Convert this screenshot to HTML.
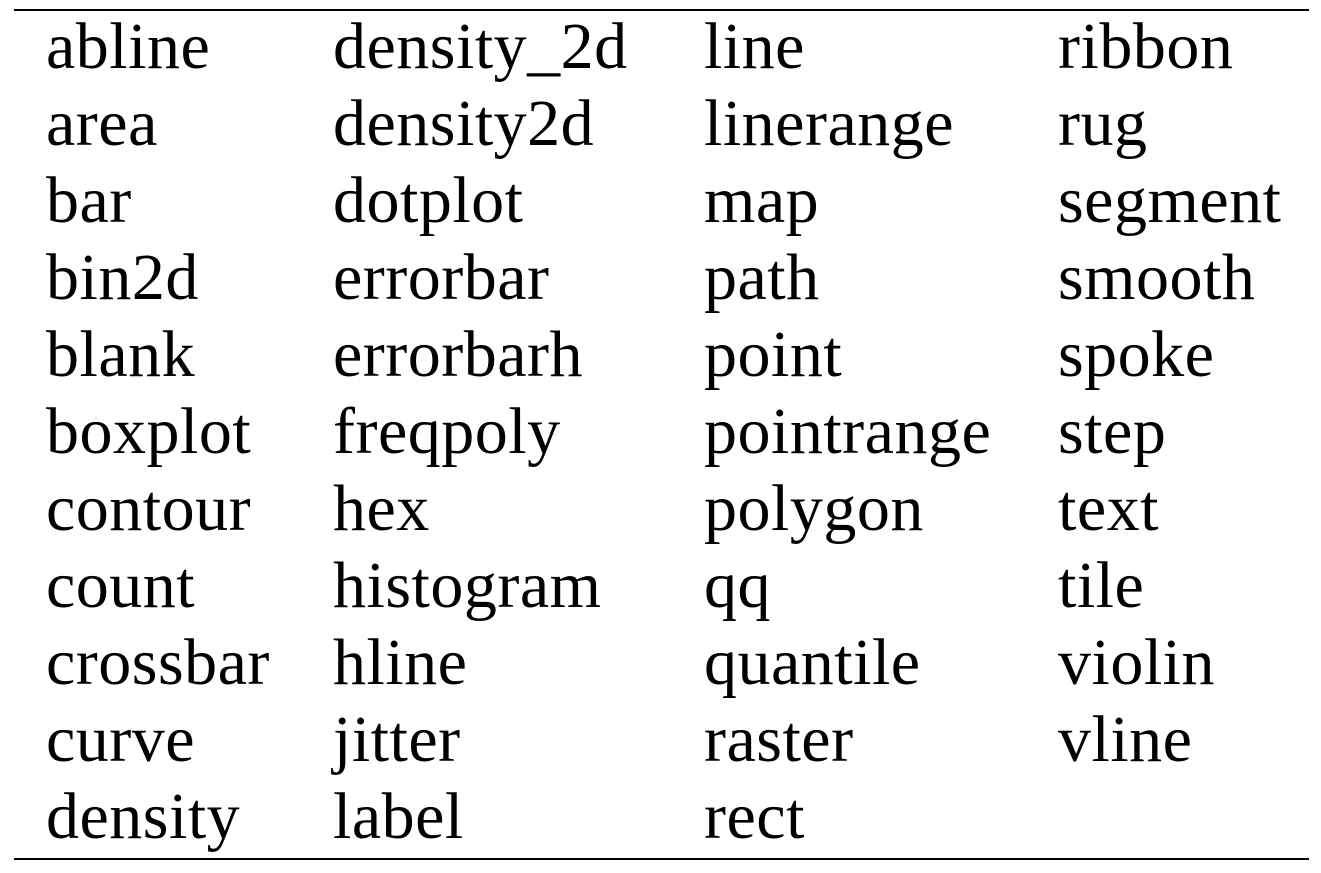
<!DOCTYPE html>
<html>
<head>
<meta charset="utf-8">
<style>
html,body{margin:0;padding:0;background:#fff;}
svg{display:block;}
text{font-family:"Liberation Serif",serif;font-size:66px;fill:#000;letter-spacing:0.5px;}
</style>
</head>
<body>
<svg width="1321" height="873" viewBox="0 0 1321 873" xmlns="http://www.w3.org/2000/svg">
<rect width="1321" height="873" fill="#fff"/>
<line x1="14" y1="10" x2="1309" y2="10" stroke="#000" stroke-width="2"/>
<line x1="14" y1="859" x2="1309" y2="859" stroke="#000" stroke-width="2"/>
<g>
<text x="46" y="68">abline</text>
<text x="46" y="145">area</text>
<text x="46" y="222">bar</text>
<text x="46" y="299">bin2d</text>
<text x="46" y="376">blank</text>
<text x="46" y="453">boxplot</text>
<text x="46" y="530">contour</text>
<text x="46" y="607">count</text>
<text x="46" y="684">crossbar</text>
<text x="46" y="761">curve</text>
<text x="46" y="838">density</text>
</g>
<g>
<text x="333" y="68">density_2d</text>
<text x="333" y="145">density2d</text>
<text x="333" y="222">dotplot</text>
<text x="333" y="299">errorbar</text>
<text x="333" y="376">errorbarh</text>
<text x="333" y="453">freqpoly</text>
<text x="333" y="530">hex</text>
<text x="333" y="607">histogram</text>
<text x="333" y="684">hline</text>
<text x="333" y="761">jitter</text>
<text x="333" y="838">label</text>
</g>
<g>
<text x="704" y="68">line</text>
<text x="704" y="145">linerange</text>
<text x="704" y="222">map</text>
<text x="704" y="299">path</text>
<text x="704" y="376">point</text>
<text x="704" y="453">pointrange</text>
<text x="704" y="530">polygon</text>
<text x="704" y="607">qq</text>
<text x="704" y="684">quantile</text>
<text x="704" y="761">raster</text>
<text x="704" y="838">rect</text>
</g>
<g>
<text x="1058" y="68">ribbon</text>
<text x="1058" y="145">rug</text>
<text x="1058" y="222">segment</text>
<text x="1058" y="299">smooth</text>
<text x="1058" y="376">spoke</text>
<text x="1058" y="453">step</text>
<text x="1058" y="530">text</text>
<text x="1058" y="607">tile</text>
<text x="1058" y="684">violin</text>
<text x="1058" y="761">vline</text>
</g>
</svg>
</body>
</html>
